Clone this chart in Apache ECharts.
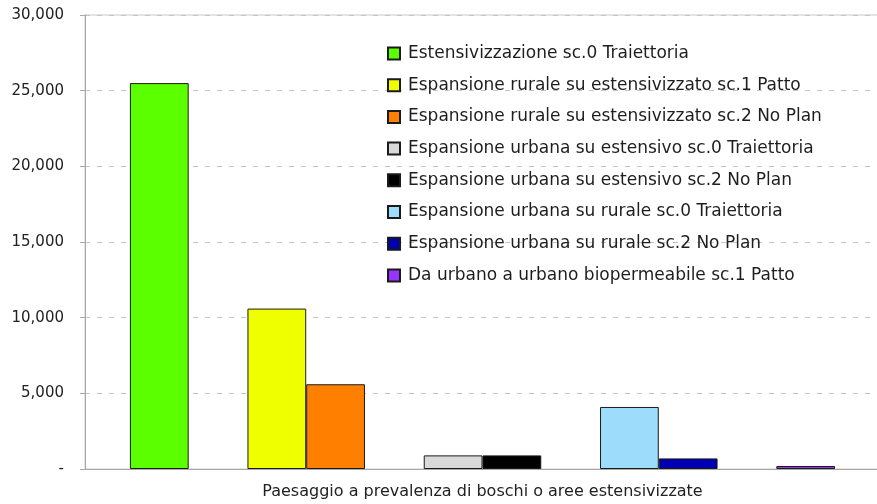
<!DOCTYPE html>
<html>
<head>
<meta charset="utf-8">
<script src="https://cdn.jsdelivr.net/npm/echarts@6/dist/echarts.min.js"></script>
<style>
html,body{margin:0;padding:0;background:#fff;}
#chart{width:877px;height:504px;}
</style>
</head>
<body>
<div id="chart"></div>
<script>
// ---- data ----
const categories = ['Paesaggio a prevalenza di boschi o aree estensivizzate'];
const seriesNames = [
  'Estensivizzazione sc.0 Traiettoria',
  'Espansione rurale su estensivizzato sc.1 Patto',
  'Espansione rurale su estensivizzato sc.2 No Plan',
  'Espansione urbana su estensivo sc.0 Traiettoria',
  'Espansione urbana su estensivo sc.2 No Plan',
  'Espansione urbana su rurale sc.0 Traiettoria',
  'Espansione urbana su rurale sc.2 No Plan',
  'Da urbano a urbano biopermeabile sc.1 Patto'
];
const seriesValues = [25500, 10600, 5600, 900, 900, 4100, 700, 200];
const seriesColors = ['#5cff00', '#f0ff00', '#ff8000', '#d9d9d9', '#000000', '#9ddcfb', '#0000b0', '#9933ff'];
// order of bar slots in the group: index into series, or null for an empty slot
const slotOrder = [0, null, 1, 2, null, 3, 4, null, 5, 6, null, 7];
const yTicks = [0, 5000, 10000, 15000, 20000, 25000, 30000];

// ---- build ----
const FONT = 'DejaVu Sans';
const GAP = '11.3%';
const series = slotOrder.map((idx, k) => {
  if (idx === null) {
    return { name: '__gap' + k, type: 'bar', data: [null], barGap: '0%', barCategoryGap: GAP, silent: true };
  }
  return {
    name: seriesNames[idx],
    type: 'bar',
    data: [seriesValues[idx]],
    barGap: '0%',
    barCategoryGap: GAP,
    itemStyle: { color: seriesColors[idx], borderColor: '#1a1a1a', borderWidth: 1 }
  };
});

const chart = echarts.init(document.getElementById('chart'));
chart.setOption({
  animation: false,
  backgroundColor: '#ffffff',
  grid: { left: 85, right: -3, top: 15, bottom: 35, outerBoundsMode: 'none', containLabel: false, show: true, borderColor: '#c8c8c8', borderWidth: 1 },
  legend: {
    orient: 'vertical',
    left: 382,
    top: 40,
    data: seriesNames,
    icon: 'rect',
    itemWidth: 12,
    itemHeight: 12,
    itemGap: 14.7,
    textStyle: { fontFamily: FONT, fontSize: 17, color: '#1e1e1e', lineHeight: 17, padding: [0, 0, 0, 3] },
    selectedMode: false
  },
  xAxis: {
    type: 'category',
    data: categories,
    axisLine: { lineStyle: { color: '#a8a8a8' } },
    axisTick: { show: false },
    axisLabel: { fontFamily: FONT, fontSize: 16, color: '#222', margin: 15 }
  },
  yAxis: {
    type: 'value',
    min: yTicks[0],
    max: yTicks[yTicks.length - 1],
    interval: yTicks[1] - yTicks[0],
    axisLine: { show: true, lineStyle: { color: '#a8a8a8' } },
    axisTick: { show: true, length: 5, lineStyle: { color: '#a8a8a8' } },
    splitLine: { lineStyle: { color: '#c4c4c4', type: [5, 7] } },
    axisLabel: {
      fontFamily: FONT, fontSize: 15, color: '#222', margin: 21,
      formatter: v => v === 0 ? '-' : v.toLocaleString('en-US')
    }
  },
  series: series
});
</script>
</body>
</html>
